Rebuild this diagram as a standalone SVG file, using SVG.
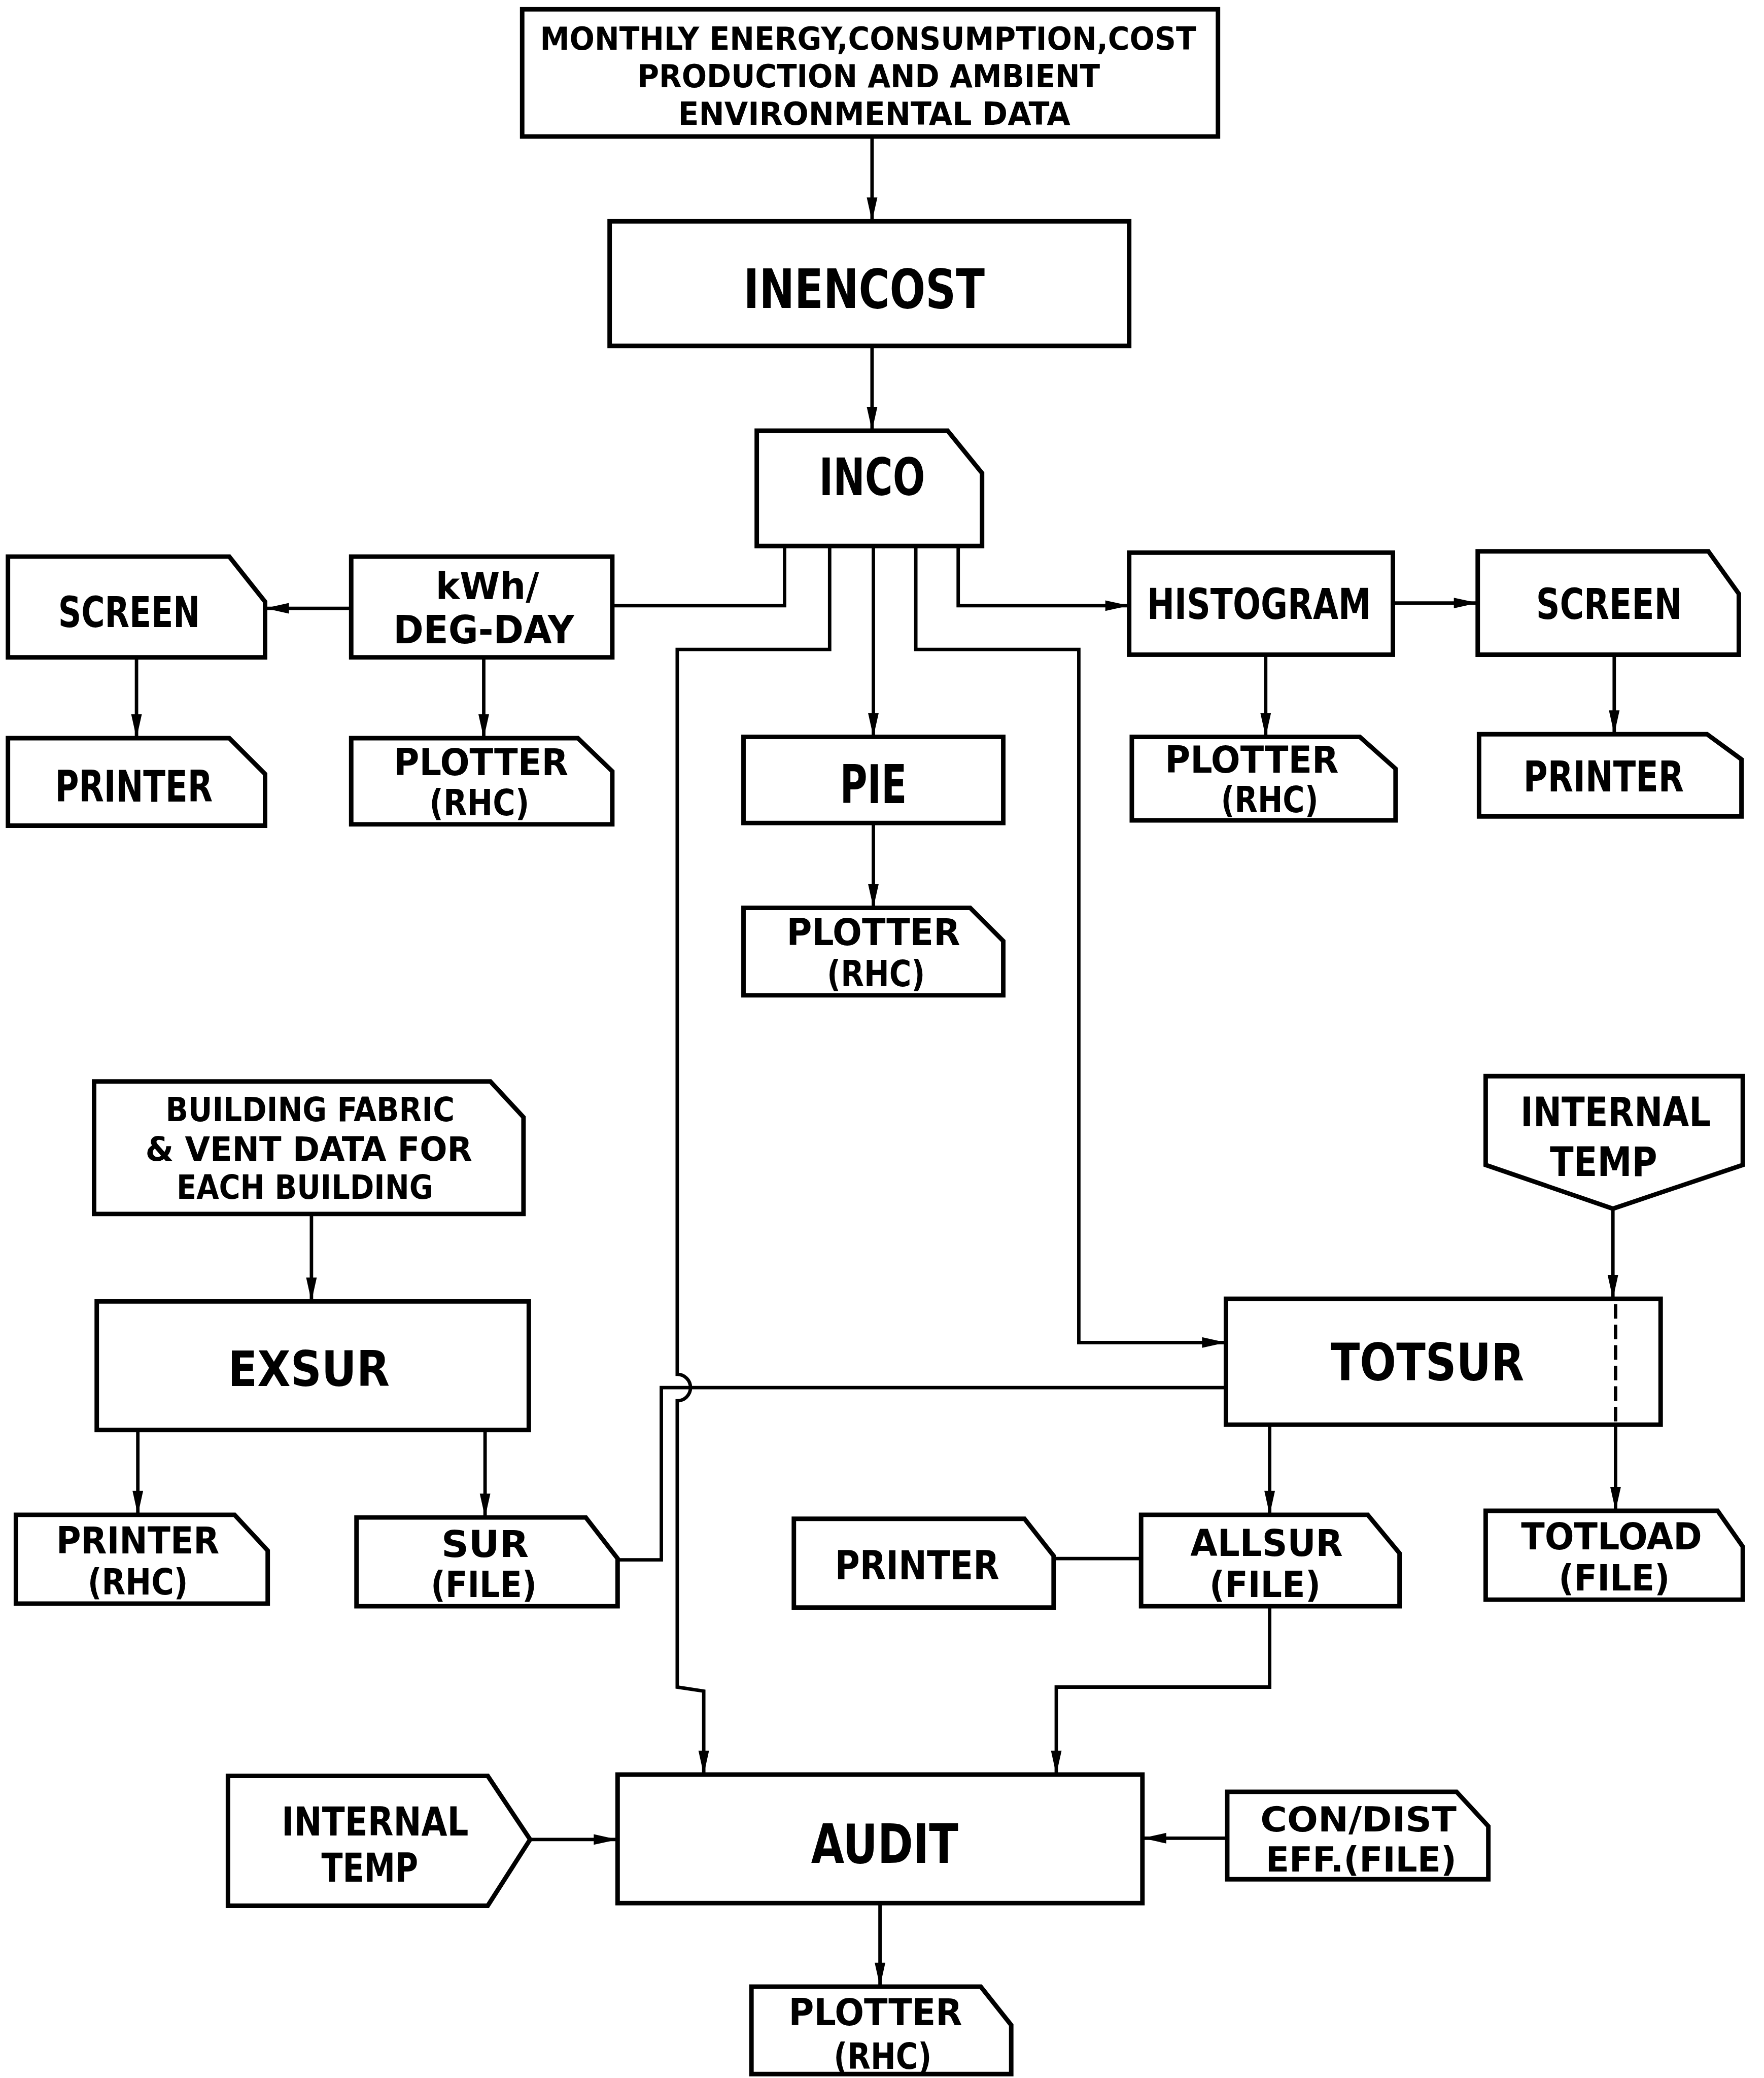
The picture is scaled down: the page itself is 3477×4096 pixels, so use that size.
<svg xmlns="http://www.w3.org/2000/svg" width="3477" height="4096" viewBox="0 0 3477 4096">
<style>
.n{fill:#fff;stroke:#000;stroke-width:3.4;stroke-linejoin:miter}
.c{fill:none;stroke:#000;stroke-width:2.6}
.a{marker-end:url(#ah)}
.d{stroke-dasharray:11 4.5}
text{font-family:"DejaVu Sans Condensed","DejaVu Sans","Liberation Sans",sans-serif;font-weight:bold;text-anchor:middle;fill:#000}
</style>
<defs>
<marker id="ah" markerUnits="userSpaceOnUse" markerWidth="18" markerHeight="8" refX="18" refY="4" orient="auto" overflow="visible">
<path d="M0,0 L18,4 L0,8 Z" fill="#000"/>
</marker>
</defs>
<rect width="3477" height="4096" fill="#fff"/>
<g transform="scale(2.61232)">
<g id="nodes">
<g id="n-top"><rect class="n" x="394" y="7" width="525" height="96"/>
<text x="655" y="37.6" font-size="24" textLength="495" lengthAdjust="spacingAndGlyphs">MONTHLY ENERGY,CONSUMPTION,COST</text>
<text x="655.5" y="66" font-size="24" textLength="349" lengthAdjust="spacingAndGlyphs">PRODUCTION AND AMBIENT</text>
<text x="659.6" y="94" font-size="24" textLength="296" lengthAdjust="spacingAndGlyphs">ENVIRONMENTAL DATA</text></g>
<g id="n-inencost"><rect class="n" x="460" y="167" width="392" height="94"/>
<text x="652" y="232.5" font-size="41" textLength="182" lengthAdjust="spacingAndGlyphs">INENCOST</text></g>
<g id="n-inco"><path class="n" d="M571,325 H715 L741,357 V412 H571 Z"/>
<text x="658" y="373.5" font-size="39" textLength="80" lengthAdjust="spacingAndGlyphs">INCO</text></g>
<g id="n-kwh"><rect class="n" x="265" y="420" width="197" height="76"/>
<text x="367.7" y="452" font-size="28" textLength="78" lengthAdjust="spacingAndGlyphs">kWh/</text>
<text x="365" y="485.3" font-size="29" textLength="136.5" lengthAdjust="spacingAndGlyphs">DEG-DAY</text></g>
<g id="n-screen-l"><path class="n" d="M6,420 H173 L200,454 V496 H6 Z"/>
<text x="97.4" y="473" font-size="32" textLength="107" lengthAdjust="spacingAndGlyphs">SCREEN</text></g>
<g id="n-printer-l"><path class="n" d="M6,557 H173 L200,584 V623 H6 Z"/>
<text x="101" y="605" font-size="33" textLength="119" lengthAdjust="spacingAndGlyphs">PRINTER</text></g>
<g id="n-plotter-l"><path class="n" d="M265,557 H436 L462,582 V622 H265 Z"/>
<text x="363" y="585" font-size="28" textLength="131.6" lengthAdjust="spacingAndGlyphs">PLOTTER</text>
<text x="361.7" y="615" font-size="27" textLength="75.5" lengthAdjust="spacingAndGlyphs">(RHC)</text></g>
<g id="n-pie"><rect class="n" x="561" y="556" width="196" height="65"/>
<text x="659" y="606" font-size="40" textLength="50.6" lengthAdjust="spacingAndGlyphs">PIE</text></g>
<g id="n-plotter-m"><path class="n" d="M561,685 H732 L757,710 V751 H561 Z"/>
<text x="659" y="713" font-size="28" textLength="131" lengthAdjust="spacingAndGlyphs">PLOTTER</text>
<text x="661" y="744" font-size="27" textLength="74" lengthAdjust="spacingAndGlyphs">(RHC)</text></g>
<g id="n-histogram"><rect class="n" x="852" y="417" width="199" height="77"/>
<text x="950" y="467" font-size="32" textLength="169" lengthAdjust="spacingAndGlyphs">HISTOGRAM</text></g>
<g id="n-screen-r"><path class="n" d="M1115,416 H1289 L1312,448 V494 H1115 Z"/>
<text x="1214" y="467" font-size="32" textLength="110" lengthAdjust="spacingAndGlyphs">SCREEN</text></g>
<g id="n-printer-r"><path class="n" d="M1116,554 H1288 L1314,573 V616 H1116 Z"/>
<text x="1210" y="597" font-size="32" textLength="121" lengthAdjust="spacingAndGlyphs">PRINTER</text></g>
<g id="n-plotter-r"><path class="n" d="M854,556 H1026 L1053,580 V619 H854 Z"/>
<text x="944.5" y="583" font-size="28" textLength="131" lengthAdjust="spacingAndGlyphs">PLOTTER</text>
<text x="958" y="613" font-size="27" textLength="73.5" lengthAdjust="spacingAndGlyphs">(RHC)</text></g>
<g id="n-building"><path class="n" d="M71,816 H370 L395,843 V916 H71 Z"/>
<text x="234" y="846" font-size="25" textLength="218" lengthAdjust="spacingAndGlyphs">BUILDING FABRIC</text>
<text x="233" y="876" font-size="25" textLength="246.6" lengthAdjust="spacingAndGlyphs">&amp; VENT DATA FOR</text>
<text x="230" y="904.6" font-size="25" textLength="193.6" lengthAdjust="spacingAndGlyphs">EACH BUILDING</text></g>
<g id="n-exsur"><rect class="n" x="73" y="982" width="326" height="97"/>
<text x="233" y="1046" font-size="37" textLength="122" lengthAdjust="spacingAndGlyphs">EXSUR</text></g>
<g id="n-printer-rhc"><path class="n" d="M12,1143 H177 L202,1170 V1210 H12 Z"/>
<text x="104" y="1172" font-size="28" textLength="123" lengthAdjust="spacingAndGlyphs">PRINTER</text>
<text x="104" y="1203" font-size="27" textLength="75.7" lengthAdjust="spacingAndGlyphs">(RHC)</text></g>
<g id="n-sur"><path class="n" d="M269,1145 H442 L466,1176 V1212 H269 Z"/>
<text x="366" y="1175" font-size="28" textLength="66" lengthAdjust="spacingAndGlyphs">SUR</text>
<text x="365" y="1205" font-size="27" textLength="80" lengthAdjust="spacingAndGlyphs">(FILE)</text></g>
<g id="n-totsur"><rect class="n" x="925" y="980" width="328" height="95"/>
<text x="1077" y="1041.6" font-size="39" textLength="146" lengthAdjust="spacingAndGlyphs">TOTSUR</text></g>
<g id="n-inttemp-r"><path class="n" d="M1121,812 H1315 V879 L1217,912 L1121,879 Z"/>
<text x="1219" y="850" font-size="31" textLength="143.5" lengthAdjust="spacingAndGlyphs">INTERNAL</text>
<text x="1210" y="887.5" font-size="31" textLength="81" lengthAdjust="spacingAndGlyphs">TEMP</text></g>
<g id="n-totload"><path class="n" d="M1121,1140 H1296 L1315,1167 V1207 H1121 Z"/>
<text x="1216" y="1169" font-size="28" textLength="136.5" lengthAdjust="spacingAndGlyphs">TOTLOAD</text>
<text x="1218" y="1200" font-size="27" textLength="84" lengthAdjust="spacingAndGlyphs">(FILE)</text></g>
<g id="n-allsur"><path class="n" d="M861,1143 H1032 L1056,1172 V1212 H861 Z"/>
<text x="955.7" y="1174" font-size="28" textLength="115" lengthAdjust="spacingAndGlyphs">ALLSUR</text>
<text x="954.5" y="1205" font-size="27" textLength="84" lengthAdjust="spacingAndGlyphs">(FILE)</text></g>
<g id="n-printer-m"><path class="n" d="M599,1146 H773 L795,1174 V1213 H599 Z"/>
<text x="692" y="1191.6" font-size="30" textLength="124" lengthAdjust="spacingAndGlyphs">PRINTER</text></g>
<g id="n-audit"><rect class="n" x="466" y="1339" width="396" height="97"/>
<text x="667.5" y="1405.6" font-size="41" textLength="111" lengthAdjust="spacingAndGlyphs">AUDIT</text></g>
<g id="n-inttemp-l"><path class="n" d="M172,1340 H368 L400,1388 L368,1438 H172 Z"/>
<text x="283" y="1385" font-size="30" textLength="141" lengthAdjust="spacingAndGlyphs">INTERNAL</text>
<text x="279" y="1420" font-size="30" textLength="73" lengthAdjust="spacingAndGlyphs">TEMP</text></g>
<g id="n-condist"><path class="n" d="M926,1352 H1099 L1123,1378 V1418 H926 Z"/>
<text x="1025" y="1382" font-size="26" textLength="148" lengthAdjust="spacingAndGlyphs">CON/DIST</text>
<text x="1027" y="1412" font-size="26" textLength="144" lengthAdjust="spacingAndGlyphs">EFF.(FILE)</text></g>
<g id="n-plotter-b"><path class="n" d="M567,1499 H740 L763,1528 V1565 H567 Z"/>
<text x="660.6" y="1528" font-size="28" textLength="131" lengthAdjust="spacingAndGlyphs">PLOTTER</text>
<text x="666" y="1561" font-size="27" textLength="74" lengthAdjust="spacingAndGlyphs">(RHC)</text></g>
</g>
<g id="connectors">
<path class="c a" d="M658,103 V167"/>
<path class="c a" d="M658,261 V325"/>
<path class="c" d="M592,412 V457 H462"/>
<path class="c a" d="M626,412 V490 H511 V1037 A10,10 0 0 1 511,1057 V1273 L531,1276 V1339"/>
<path class="c a" d="M659,412 V556"/>
<path class="c a" d="M691,412 V490 H814 V1013 H925"/>
<path class="c a" d="M723,412 V457 H852"/>
<path class="c a" d="M265,459 H200"/>
<path class="c a" d="M103,496 V557"/>
<path class="c a" d="M365,496 V557"/>
<path class="c a" d="M659,621 V685"/>
<path class="c a" d="M1051,455 H1115"/>
<path class="c a" d="M955,494 V556"/>
<path class="c a" d="M1218,494 V554"/>
<path class="c a" d="M235,916 V982"/>
<path class="c a" d="M104,1079 V1143"/>
<path class="c a" d="M366,1079 V1145"/>
<path class="c" d="M466,1177 H499 V1047 H925"/>
<path class="c a" d="M1217,912 V980"/>
<path class="c d" d="M1219,984 V1075"/>
<path class="c a" d="M1219,1075 V1140"/>
<path class="c a" d="M958,1075 V1143"/>
<path class="c" d="M795,1176 H861"/>
<path class="c a" d="M958,1212 V1273 H797 V1339"/>
<path class="c a" d="M400,1388 H466"/>
<path class="c a" d="M926,1387 H862"/>
<path class="c a" d="M664,1436 V1499"/>
</g>
</g>
</svg>
